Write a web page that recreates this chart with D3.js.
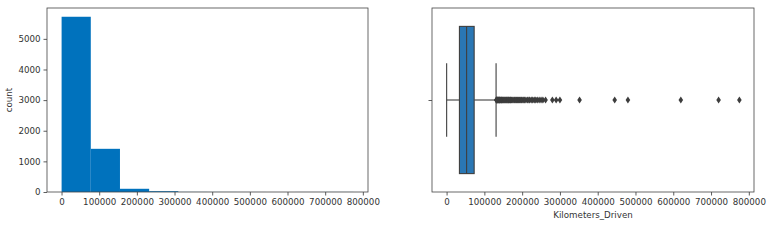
<!DOCTYPE html>
<html>
<head>
<meta charset="utf-8">
<script src="https://cdn.jsdelivr.net/npm/d3@7"></script>
<style>
  body { margin: 0; background: #fff; }
  svg text { font-family: "DejaVu Sans", sans-serif; fill: #333; }
</style>
</head>
<body>
<div id="chart"></div>
<script>
// histogram of Kilometers_Driven (10 bins over 171..775000)
const binEdges = [171, 77654, 155137, 232620, 310103, 387586, 465068, 542551, 620034, 697517, 775000];
const binCounts = [5722, 1410, 105, 27, 3, 2, 1, 0, 1, 2];
const xTicks = [0, 100000, 200000, 300000, 400000, 500000, 600000, 700000, 800000];
const yTicks = [0, 1000, 2000, 3000, 4000, 5000];

// box plot summary
const boxStats = { whiskerLow: 171, q1: 34000, median: 53000, q3: 73000, whiskerHigh: 131000 };
const outliers = [
  131500, 132000, 133000, 134000, 135000, 136000, 137000, 138000, 139500, 140000,
  141000, 142500, 144000, 145000, 146000, 147500, 149000, 150000, 152000, 154000,
  155000, 157000, 158000, 160000, 162000, 164000, 165000, 167000, 169000, 170000,
  172000, 175000, 178000, 180000, 183000, 185000, 188000, 190000, 193000, 195000,
  198000, 200000, 203000, 206000, 210000, 214000, 218000, 220000, 224000, 228000,
  232000, 236000, 240000, 245000, 250000, 255000, 262000, 280000, 290000, 300000,
  352000, 445000, 480000, 620000, 720000, 775000
];

const W = 768, H = 242;
const svg = d3.select("#chart").append("svg")
  .attr("width", W).attr("height", H);

const xDomain = [-38600, 813700];
const fs = 8.7;

// ---- left: histogram ----
const L = { left: 47, right: 368, top: 8, bottom: 192 };
const xL = d3.scaleLinear().domain(xDomain).range([L.left, L.right]);
const yL = d3.scaleLinear().domain([0, 6008]).range([L.bottom, L.top]);

const gL = svg.append("g");
gL.selectAll("rect")
  .data(binCounts)
  .join("rect")
  .attr("x", (d, i) => xL(binEdges[i]))
  .attr("width", (d, i) => xL(binEdges[i + 1]) - xL(binEdges[i]))
  .attr("y", d => yL(d))
  .attr("height", d => yL(0) - yL(d))
  .attr("fill", "#0072bd");

function styleAxis(g) {
  g.select(".domain").remove();
  g.selectAll(".tick line").attr("stroke", "#333").attr("stroke-width", 0.8);
  g.selectAll(".tick text").attr("font-size", fs).attr("font-family", "DejaVu Sans, sans-serif").attr("fill", "#333");
}

gL.append("g")
  .attr("transform", `translate(0,${L.bottom})`)
  .call(d3.axisBottom(xL).tickValues(xTicks).tickFormat(d3.format("d")).tickSize(3.5).tickPadding(3))
  .call(styleAxis);

gL.append("g")
  .attr("transform", `translate(${L.left},0)`)
  .call(d3.axisLeft(yL).tickValues(yTicks).tickFormat(d3.format("d")).tickSize(3.5).tickPadding(3))
  .call(styleAxis);

gL.append("rect")
  .attr("x", L.left).attr("y", L.top)
  .attr("width", L.right - L.left).attr("height", L.bottom - L.top)
  .attr("fill", "none").attr("stroke", "#444").attr("stroke-width", 0.8);

gL.append("text")
  .attr("transform", `translate(12,${(L.top + L.bottom) / 2}) rotate(-90)`)
  .attr("text-anchor", "middle")
  .attr("font-size", fs)
  .text("count");

// ---- right: box plot ----
const R = { left: 432, right: 754, top: 8, bottom: 192 };
const xR = d3.scaleLinear().domain(xDomain).range([R.left, R.right]);
const yR = d3.scaleLinear().domain([0.5, -0.5]).range([R.bottom, R.top]);
const gR = svg.append("g");
const edge = "#3f3f3f";

// whiskers
gR.append("line")
  .attr("x1", xR(boxStats.whiskerLow)).attr("x2", xR(boxStats.q1))
  .attr("y1", yR(0)).attr("y2", yR(0))
  .attr("stroke", edge).attr("stroke-width", 1.1);
gR.append("line")
  .attr("x1", xR(boxStats.q3)).attr("x2", xR(boxStats.whiskerHigh))
  .attr("y1", yR(0)).attr("y2", yR(0))
  .attr("stroke", edge).attr("stroke-width", 1.1);
[boxStats.whiskerLow, boxStats.whiskerHigh].forEach(v => {
  gR.append("line")
    .attr("x1", xR(v)).attr("x2", xR(v))
    .attr("y1", yR(-0.2)).attr("y2", yR(0.2))
    .attr("stroke", edge).attr("stroke-width", 1.1);
});

// box
gR.append("rect")
  .attr("x", xR(boxStats.q1)).attr("width", xR(boxStats.q3) - xR(boxStats.q1))
  .attr("y", yR(-0.4)).attr("height", yR(0.4) - yR(-0.4))
  .attr("fill", "#2a77b4").attr("stroke", edge).attr("stroke-width", 1.1);
gR.append("line")
  .attr("x1", xR(boxStats.median)).attr("x2", xR(boxStats.median))
  .attr("y1", yR(-0.4)).attr("y2", yR(0.4))
  .attr("stroke", edge).attr("stroke-width", 1.1);

// outliers (diamonds)
gR.selectAll("path.out")
  .data(outliers)
  .join("path")
  .attr("class", "out")
  .attr("transform", d => `translate(${xR(d)},${yR(0)})`)
  .attr("d", "M0,-3.6L2.3,0L0,3.6L-2.3,0Z")
  .attr("fill", "#3d3d3d");

gR.append("g")
  .attr("transform", `translate(0,${R.bottom})`)
  .call(d3.axisBottom(xR).tickValues(xTicks).tickFormat(d3.format("d")).tickSize(3.5).tickPadding(3))
  .call(styleAxis);

gR.append("g")
  .attr("transform", `translate(${R.left},0)`)
  .call(d3.axisLeft(yR).tickValues([0]).tickFormat("").tickSize(3.5))
  .call(styleAxis);

gR.append("rect")
  .attr("x", R.left).attr("y", R.top)
  .attr("width", R.right - R.left).attr("height", R.bottom - R.top)
  .attr("fill", "none").attr("stroke", "#444").attr("stroke-width", 0.8);

gR.append("text")
  .attr("x", (R.left + R.right) / 2)
  .attr("y", 218)
  .attr("text-anchor", "middle")
  .attr("font-size", fs)
  .text("Kilometers_Driven");
</script>
</body>
</html>
